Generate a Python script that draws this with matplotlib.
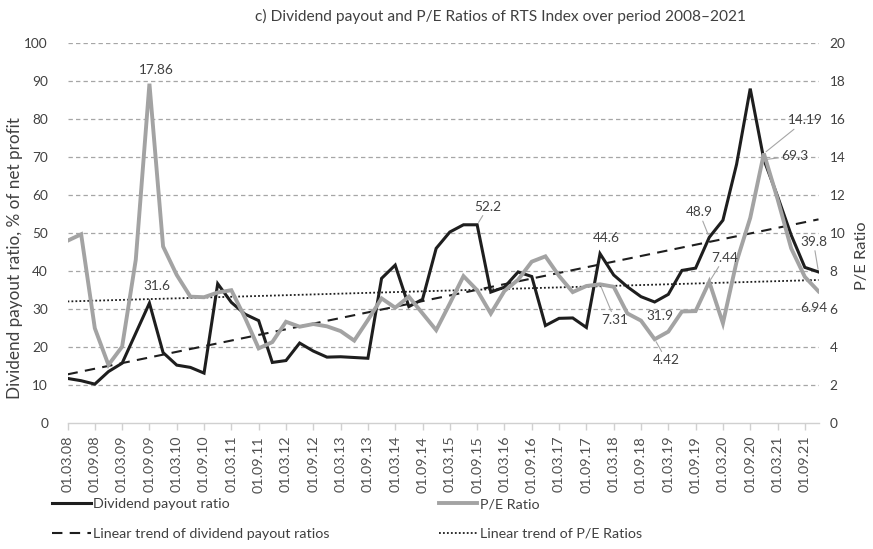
import numpy as np
import matplotlib
matplotlib.use("Agg")
import matplotlib.pyplot as plt

plt.rcParams['font.family'] = ['Lato', 'DejaVu Sans']

# Quarterly observations, March 2008 - December 2021
years = list(range(2008, 2022))
months = ['03', '06', '09', '12']
dates = [f"01.{m}.{y % 100:02d}" for y in years for m in months]

# Dividend payout ratio, % of net profit
payout = [11.8, 11.2, 10.3, 13.6, 15.8, 23.7, 31.6, 18.6, 15.3, 14.7,
          13.2, 36.7, 31.8, 28.7, 27.0, 16.0, 16.5, 21.1, 19.0, 17.4,
          17.5, 17.3, 17.1, 38.1, 41.6, 30.7, 32.6, 46.0, 50.3, 52.2,
          52.2, 34.5, 35.8, 39.8, 38.6, 25.7, 27.6, 27.7, 25.2, 44.6,
          39.0, 35.9, 33.3, 31.9, 33.9, 40.2, 40.8, 48.9, 53.4, 68.1,
          88.0, 69.3, 59.7, 49.5, 41.0, 39.8]

# P/E ratio
pe = [9.60, 9.94, 5.00, 3.07, 4.03, 8.60, 17.86, 9.30, 7.80, 6.66,
      6.63, 6.88, 7.00, 5.55, 3.94, 4.27, 5.34, 5.08, 5.22, 5.10,
      4.85, 4.35, 5.43, 6.57, 6.08, 6.66, 5.78, 4.90, 6.30, 7.74,
      7.00, 5.77, 6.96, 7.55, 8.50, 8.78, 7.75, 6.90, 7.22, 7.31,
      7.18, 5.78, 5.40, 4.42, 4.82, 5.88, 5.90, 7.44, 5.26, 8.50,
      10.80, 14.19, 11.80, 9.20, 7.70, 6.94]

# Points carrying value labels: index -> (dx, dy in px, leader line)
payout_labels = {6: (7, 17, False), 30: (11, 18, True), 39: (6, 16, False),
                 43: (5, -14, False), 47: (-10, 25, True), 51: (31, 4, True),
                 55: (-5, 30, True)}
pe_labels = {6: (7, 14, False), 39: (15, -36, True), 43: (12, -21, True),
             47: (15, 24, True), 51: (41, 33, True), 55: (-5, -17, False)}

W, H = 873, 549
fig = plt.figure(figsize=(W / 100, H / 100), dpi=100)
ax = fig.add_axes([67.5 / W, 1 - 423.3 / H, (818.5 - 67.5) / W, (423.3 - 43) / H])
ax2 = ax.twinx()

x = np.arange(len(dates))
BLACK = '#1e1e1e'
GREY = '#a3a3a3'
TXT = '#404040'

# Trend lines fitted by least squares
kp = np.polyfit(x, payout, 1)
ke = np.polyfit(x, pe, 1)

l1, = ax.plot(x, payout, color=BLACK, lw=2.2, solid_joinstyle='miter', zorder=3,
              label='Dividend payout ratio')
l3, = ax.plot(x, np.polyval(kp, x), color=BLACK, lw=1.5, dashes=(5, 3.5), zorder=2,
              label='Linear trend of dividend payout ratios')
l2, = ax2.plot(x, pe, color=GREY, lw=2.8, solid_joinstyle='miter', zorder=3,
               label='P/E Ratio')
l4, = ax2.plot(x, np.polyval(ke, x), color=BLACK, lw=1.3, dashes=(1, 1.2), zorder=2,
               label='Linear trend of P/E Ratios')

ax.set_xlim(0, len(dates) - 1)
ax.set_ylim(0, 100)
ax2.set_ylim(0, 20)
ax.set_yticks(np.arange(0, 101, 10))
ax2.set_yticks(np.arange(0, 21, 2))
ax.set_xticks(x[::2])
ax.set_xticklabels(dates[::2], rotation=90, fontsize=10.4, color='#505050')

for v in range(10, 101, 10):
    ax.axhline(v, color='#a6a6a6', lw=0.9, dashes=(3.5, 2.5), zorder=0)

for a in (ax, ax2):
    for s in ('top', 'left', 'right', 'bottom'):
        a.spines[s].set_visible(False)
ax.spines['bottom'].set_visible(True)
ax.spines['bottom'].set_color('#d0d0d0')
ax.spines['bottom'].set_linewidth(1.0)

ax.tick_params(axis='x', length=5, width=1, color='#d0d0d0', pad=4)
ax.tick_params(axis='y', length=0, pad=14, labelsize=9.8, labelcolor=TXT)
ax2.tick_params(axis='y', length=0, pad=8, labelsize=9.8, labelcolor=TXT)

ax.set_ylabel('Dividend payout ratio, % of net profit', fontsize=12.3, color=TXT,
              va='center')
ax.yaxis.set_label_coords((15 - 67.5) / 751, 0.434)
ax2.set_ylabel('P/E Ratio', fontsize=11.8, color=TXT, rotation=90, va='center')
ax2.yaxis.set_label_coords((862 - 67.5) / 751, 0.44)

fig.text(501 / W, 1 - 16 / H, 'c) Dividend payout and P/E Ratios of RTS Index over period 2008\u20132021',
         ha='center', va='center', fontsize=11.2, color=TXT)


def label(axis, series, spec):
    for i, (dx, dy, leader) in spec.items():
        v = series[i]
        props = dict(arrowstyle='-', color='#a6a6a6', lw=0.8, shrinkA=0, shrinkB=2) if leader else None
        axis.annotate(f"{v:g}", xy=(i, v), xytext=(dx * 0.72, dy * 0.72),
                      textcoords='offset points', ha='center', va='center',
                      fontsize=9.8, color=TXT, arrowprops=props, zorder=5)


label(ax, payout, payout_labels)
label(ax2, pe, pe_labels)

fig.legend([l1, l3, l2, l4], [h.get_label() for h in (l1, l3, l2, l4)],
           ncol=2, loc='upper left', bbox_to_anchor=(52 / W, 1 - 498 / H),
           frameon=False, fontsize=10.3, labelcolor=TXT, handlelength=2.7,
           handletextpad=0.2, columnspacing=7.6, labelspacing=1.25,
           borderaxespad=0, borderpad=0)

fig.savefig('out.png', dpi=100)
